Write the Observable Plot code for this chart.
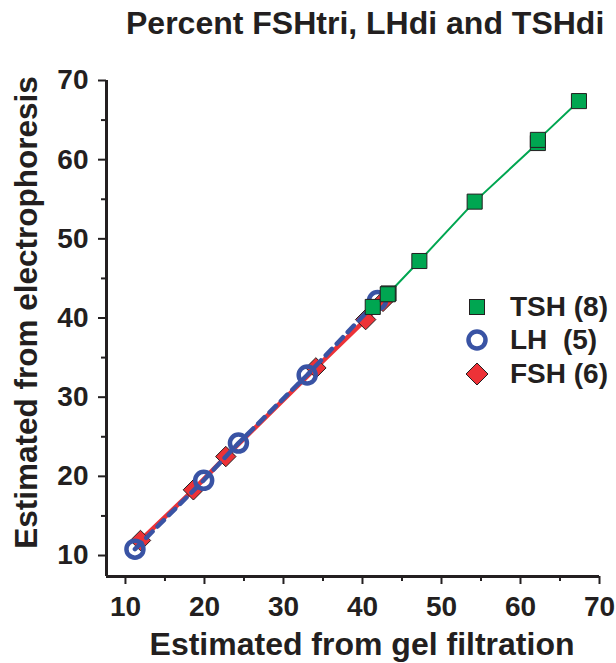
<!DOCTYPE html>
<html>
<head>
<meta charset="utf-8">
<script src="https://cdn.jsdelivr.net/npm/d3@7"></script>
<script src="https://cdn.jsdelivr.net/npm/@observablehq/plot@0.6"></script>
<style>
  html, body { margin: 0; padding: 0; background: #fff; }
  #wrap { position: relative; width: 616px; height: 663px; font-family: "Liberation Sans", Arial, Helvetica, sans-serif; color: #231f20; }
  #title { position: absolute; left: 126px; top: 7px; font-size: 32px; line-height: 1; font-weight: bold; white-space: nowrap; }
  #legend { position: absolute; left: 462px; top: 290px; font-size: 28px; font-weight: bold; }
  #legend .row { display: flex; align-items: center; height: 33.5px; white-space: pre; }
  #legend svg { width: 30px; height: 30px; margin-right: 18px; }
</style>
</head>
<body>
<div id="wrap">
  <div id="chart"></div>
  <div id="title">Percent FSHtri, LHdi and TSHdi</div>
  <div id="legend"></div>
</div>
<script>
// Data
const tshX = [41.3, 43.3, 43.2, 47.2, 54.2, 62.2, 62.2, 67.4];
const tshY = [41.4, 43.1, 43.0, 47.2, 54.7, 62.1, 62.5, 67.4];
const lhX  = [11.2, 19.9, 24.3, 33.0, 41.9];
const lhY  = [10.8, 19.5, 24.2, 32.8, 42.2];
const fshX = [11.9, 18.6, 22.7, 34.1, 40.4, 42.6];
const fshY = [11.9, 18.3, 22.5, 33.7, 39.8, 42.1];
const majorTicks = [10, 20, 30, 40, 50, 60, 70];
const minorTicks = [15, 25, 35, 45, 55, 65];
const seriesNames = ["TSH (8)", "LH\u00a0 (5)", "FSH (6)"];

const ink = "#231f20";
const green = "#00a651", blue = "#3953a4", red = "#ed3237";

const tsh = tshX.map((x, i) => ({x, y: tshY[i]}));
const lh  = lhX.map((x, i) => ({x, y: lhY[i]}));
const fsh = fshX.map((x, i) => ({x, y: fshY[i]}));

const xDom = [7.6, 70], yDom = [7.35, 70];

const chart = Plot.plot({
  width: 616,
  height: 663,
  marginLeft: 106,
  marginRight: 17,
  marginTop: 80,
  marginBottom: 87,
  style: {fontFamily: '"Liberation Sans", Arial, Helvetica, sans-serif', color: ink, background: "#fff"},
  x: {domain: xDom},
  y: {domain: yDom},
  marks: [
    // minor ticks
    Plot.axisX({ticks: minorTicks, tickSize: 5, text: null, stroke: ink, strokeWidth: 2, label: null}),
    Plot.axisY({ticks: minorTicks, tickSize: 5, text: null, stroke: ink, strokeWidth: 2, label: null}),
    // major ticks + labels
    Plot.axisX({ticks: majorTicks, tickSize: 8, tickPadding: 12, fontSize: 28, fontWeight: "bold", stroke: ink, strokeWidth: 2, fill: ink,
      label: "Estimated from gel filtration", labelAnchor: "center", labelArrow: "none", labelOffset: 78}),
    Plot.axisY({ticks: majorTicks, tickSize: 8, tickPadding: 10, fontSize: 28, fontWeight: "bold", stroke: ink, strokeWidth: 2, fill: ink,
      label: "Estimated from electrophoresis", labelAnchor: "center", labelArrow: "none", labelOffset: 92}),
    // spines
    Plot.ruleX([xDom[0]], {stroke: ink, strokeWidth: 3}),
    Plot.ruleY([yDom[0]], {stroke: ink, strokeWidth: 3}),
    // FSH
    Plot.line(fsh, {x: "x", y: "y", stroke: red, strokeWidth: 4.5}),
    Plot.dot(fsh, {x: "x", y: "y", symbol: "diamond2", r: 9.2, fill: red, stroke: ink, strokeWidth: 1}),
    // LH
    Plot.line(lh, {x: "x", y: "y", stroke: blue, strokeWidth: 4.5, strokeDasharray: "9,7"}),
    Plot.dot(lh, {x: "x", y: "y", symbol: "circle", r: 8.5, fill: "none", stroke: blue, strokeWidth: 4.5}),
    // TSH
    Plot.line(tsh, {x: "x", y: "y", stroke: green, strokeWidth: 2}),
    Plot.dot(tsh, {x: "x", y: "y", symbol: "square", r: 8.5, fill: green, stroke: ink, strokeWidth: 1})
  ]
});
// style axis labels (bigger)
d3.select(chart).selectAll("g[aria-label='x-axis label'] text")
  .style("font-size", "32px").style("font-weight", "bold").attr("fill", ink).attr("dx", 9);
d3.select(chart).selectAll("g[aria-label='y-axis label'] text")
  .style("font-size", "31.5px").style("font-weight", "bold").attr("fill", ink).attr("dx", 16);
document.getElementById("chart").appendChild(chart);

// legend
const legendSymbols = [
  `<svg viewBox="-15 -15 30 30"><rect x="-7.5" y="-7.5" width="15" height="15" fill="${green}" stroke="${ink}" stroke-width="1"/></svg>`,
  `<svg viewBox="-15 -15 30 30"><circle r="8.5" fill="none" stroke="${blue}" stroke-width="4.5"/></svg>`,
  `<svg viewBox="-15 -15 30 30"><path d="M0,-11L11,0L0,11L-11,0Z" fill="${red}" stroke="${ink}" stroke-width="1"/></svg>`
];
const leg = document.getElementById("legend");
seriesNames.forEach((name, i) => {
  const row = document.createElement("div");
  row.className = "row";
  row.innerHTML = legendSymbols[i] + `<span>${name}</span>`;
  leg.appendChild(row);
});
</script>
</body>
</html>
